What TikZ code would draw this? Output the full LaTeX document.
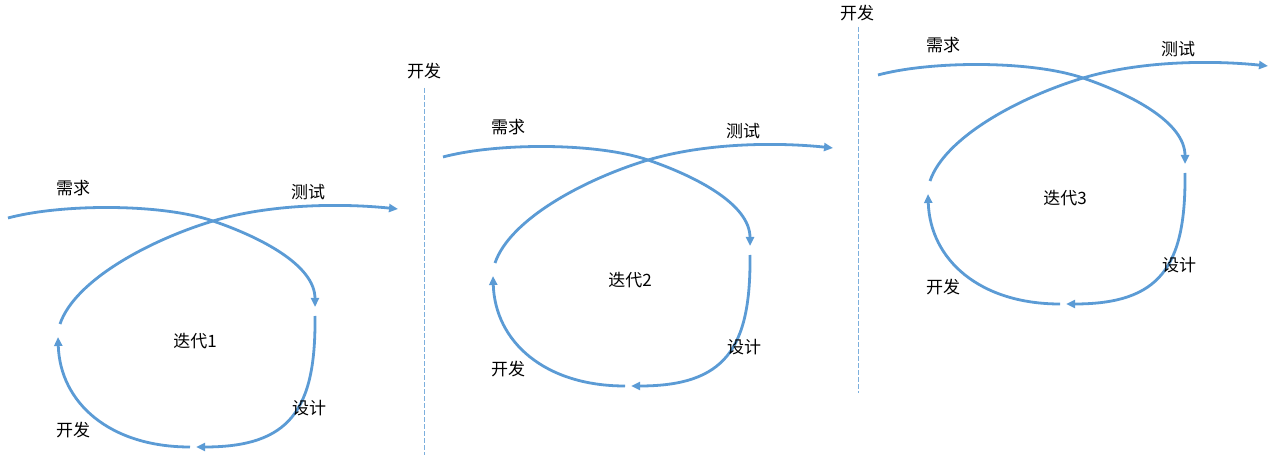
\documentclass[tikz,border=0pt]{standalone}
\usepackage{fontspec}
\setmainfont{Noto Sans CJK SC}
\usetikzlibrary{arrows.meta}
\definecolor{loopblue}{RGB}{91,155,213}
\tikzset{
  flow/.style={loopblue, line width=2.8pt, -{Triangle[length=9pt,width=8pt]}},
  phase/.style={font=\fontsize{17}{20}\selectfont},
  devline/.style={loopblue!80, line width=0.8pt, dash pattern=on 5pt off 2pt}
}
\begin{document}
\begin{tikzpicture}[x=1pt,y=-1pt]
\useasboundingbox (0,0) rectangle (1277,462);
% the three iterations
\foreach \i/\dx/\dy in {1/0/0,2/435/-61,3/870/-143}{
\begin{scope}[shift={(\dx,\dy)}]
\coordinate (a\i) at (8,218);
\coordinate (x\i) at (213,221);
\coordinate (b\i) at (315,307);
\coordinate (c\i) at (315,316);
\coordinate (d\i) at (196,447);
\coordinate (e\i) at (190,447);
\coordinate (f\i) at (58,337);
\coordinate (g\i) at (60,324);
\coordinate (h\i) at (398,209);
% requirement -> design
\draw[flow] (a\i) .. controls +(52,-14) and +(-53,-18) .. (x\i)
                  .. controls +(47,16) and +(0,-42) .. (b\i);
% design -> development
\draw[flow] (c\i) .. controls +(1,94) and +(94,0) .. (d\i);
% development -> test
\draw[flow] (e\i) .. controls +(-80,0) and +(2,66) .. (f\i);
% test -> out
\draw[flow] (g\i) .. controls +(15,-44) and +(-63,19) .. (x\i)
                  .. controls +(57,-17) and +(-58,-6) .. (h\i);
\node[phase] (req\i) at (73,188) {需求};
\node[phase] (test\i) at (308,192) {测试};
\node[phase] (des\i) at (309,408) {设计};
\node[phase] (dev\i) at (73,430) {开发};
\node[phase] (iter\i) at (195,341) {迭代\i};
\end{scope}
}
% development markers
\coordinate (top1) at (424,88);
\coordinate (bot1) at (424,455);
\coordinate (top2) at (858,27);
\coordinate (bot2) at (858,393);
\draw[devline] (top1) -- (bot1);
\draw[devline] (top2) -- (bot2);
\node[phase] (mark1) at (424,71) {开发};
\node[phase] (mark2) at (857,13) {开发};
\end{tikzpicture}
\end{document}
